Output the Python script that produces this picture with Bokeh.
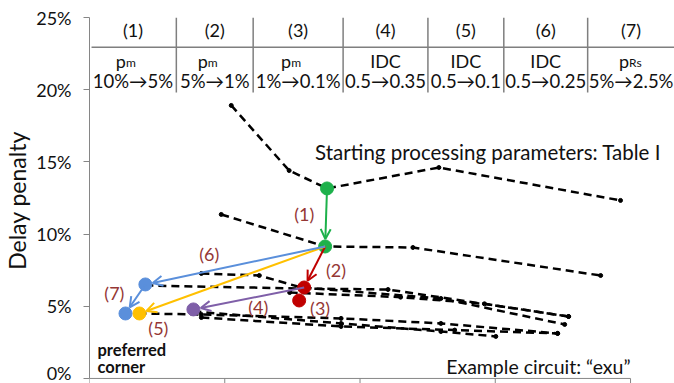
import numpy as np
from bokeh.plotting import figure
from bokeh.models import ColumnDataSource, Arrow, OpenHead, Range1d, PrintfTickFormatter
from bokeh.embed import file_html
from bokeh.resources import INLINE
from bokeh.core.properties import value

FONT = "Lato"

# ---------------- data ----------------
# dashed black trade-off curves (x in axis units 0..4, y in %)
curve_a_x = [1.048, 1.476, 1.756, 2.583, 3.926]
curve_a_y = [18.91, 14.40, 13.16, 14.61, 12.33]
curve_b_x = [0.974, 1.742, 2.391, 3.779]
curve_b_y = [11.36, 9.14, 9.07, 7.13]
curve_c_x = [0.413, 1.565, 2.207, 3.542]
curve_c_y = [6.44, 6.23, 6.16, 4.29]
curve_d_x = [0.827, 1.255, 1.565, 2.598, 3.513]
curve_d_y = [7.27, 7.13, 6.30, 5.54, 3.74]
curve_e_x = [1.48, 2.30, 2.92, 3.542]
curve_e_y = [5.95, 5.63, 5.17, 4.29]
curve_f_x = [0.362, 0.827, 1.860, 2.598, 3.461]
curve_f_y = [4.50, 4.43, 4.16, 3.81, 3.12]
curve_g_x = [0.768, 1.860, 2.598, 3.004]
curve_g_y = [4.64, 3.81, 3.25, 2.91]
curve_h_x = [0.827, 1.860, 2.70, 3.461]
curve_h_y = [4.22, 3.60, 3.35, 3.12]

# coloured steps
pt_names = ["start", "s1", "s2", "s3", "s4", "s5", "s6", "s7"]
pt_x = [1.756, 1.742, 1.587, 1.550, 0.768, 0.369, 0.413, 0.266]
pt_y = [13.16, 9.14, 6.30, 5.40, 4.78, 4.50, 6.51, 4.50]
pt_colors = ["#1DB14B", "#1DB14B", "#C00000", "#C00000", "#7F5FA8", "#FFC000", "#5A8FDB", "#5A8FDB"]

# arrows: (from point index, to point index, colour)
arrow_from = [0, 1, 2, 1, 1, 6]
arrow_to = [1, 2, 4, 5, 6, 7]
arrow_colors = ["#1DB14B", "#C00000", "#7F5FA8", "#FFC000", "#5A8FDB", "#5A8FDB"]

step_labels = ["(1)", "(2)", "(3)", "(4)", "(5)", "(6)", "(7)"]
step_lab_x = [1.587, 1.823, 1.705, 1.247, 0.509, 0.886, 0.184]
step_lab_y = [11.40, 7.50, 4.85, 4.92, 3.50, 8.60, 5.90]

# parameter table
col_ids = ["(1)", "(2)", "(3)", "(4)", "(5)", "(6)", "(7)"]
col_param = ["p", "p", "p", "IDC", "IDC", "IDC", "p"]
col_sub = ["m", "m", "m", "", "", "", "Rs"]
col_change = ["10%\u21925%", "5%\u21921%", "1%\u21920.1%", "0.5\u21920.35",
              "0.5\u21920.1", "0.5\u21920.25", "5%\u21922.5%"]

y_ticks = [0, 5, 10, 15, 20, 25]
x_ticks = [0, 1, 2, 3, 4]

# ---------------- layout constants ----------------
X_MAX = 4.325
Y_MIN = -0.35
FRAME_W = 586
FRAME_H = 366
SX = FRAME_W / X_MAX
SY = FRAME_H / (25.0 - Y_MIN)
table_edges = [0.0, 0.642, 1.210, 1.875, 2.502, 3.063, 3.683, X_MAX]
table_top, table_mid, table_bot = 25.0, 22.94, 19.80
row1_y, row2_y, row3_y = 24.15, 22.02, 20.57
GREY = "#868686"
INK = "#111111"

p = figure(width=674, height=383, x_range=Range1d(0, X_MAX), y_range=Range1d(Y_MIN, 25),
           output_backend="svg", toolbar_location=None, x_axis_location=None,
           min_border_left=88, min_border_right=0, min_border_top=17, min_border_bottom=0)
p.outline_line_color = None
p.grid.grid_line_color = None
p.background_fill_color = "white"

# y axis
p.yaxis.ticker = y_ticks
p.yaxis.bounds = (0, 25)
p.yaxis.formatter = PrintfTickFormatter(format="%d%%")
p.yaxis.axis_line_color = GREY
p.yaxis.major_tick_line_color = GREY
p.yaxis.major_tick_out = 6
p.yaxis.major_tick_in = 0
p.yaxis.minor_tick_line_color = None
p.yaxis.major_label_text_font = FONT
p.yaxis.major_label_text_font_size = "18px"
p.yaxis.major_label_text_color = INK
p.yaxis.major_label_standoff = 12
p.yaxis.axis_label = "Delay penalty"
p.yaxis.axis_label_text_font = FONT
p.yaxis.axis_label_text_font_size = "23px"
p.yaxis.axis_label_text_font_style = "normal"
p.yaxis.axis_label_text_color = INK
p.yaxis.axis_label_standoff = 2

# x axis line + downward ticks (labels are cut off in the picture)
p.segment(x0=[x_ticks[0]], y0=[0], x1=[x_ticks[-1]], y1=[0], line_color=GREY, line_width=1)
p.segment(x0=x_ticks, y0=[0] * len(x_ticks), x1=x_ticks, y1=[Y_MIN] * len(x_ticks),
          line_color=GREY, line_width=1)

# table
vx = table_edges[1:-1]
p.segment(x0=vx, y0=[table_top] * len(vx), x1=vx, y1=[table_bot] * len(vx),
          line_color="#7F7F7F", line_width=1.5)
p.segment(x0=[0.015], y0=[table_mid], x1=[X_MAX], y1=[table_mid], line_color="#7F7F7F", line_width=1.5)
centers = [(table_edges[i] + table_edges[i + 1]) / 2 for i in range(7)]
tsrc = ColumnDataSource(dict(x=centers, ids=col_ids, par=col_param, sub=col_sub, chg=col_change))
p.text(x="x", y=row1_y, text="ids", source=tsrc, text_align="center", text_baseline="alphabetic",
       text_font=value(FONT), text_font_size="18px", text_color=INK)
p.text(x="x", y=row3_y, text="chg", source=tsrc, text_align="center", text_baseline="alphabetic",
       text_font=value(FONT), text_font_size="18.5px", text_color=INK)
plain = [i for i in range(7) if col_sub[i] == ""]
subd = [i for i in range(7) if col_sub[i] != ""]
p.text(x=[centers[i] for i in plain], y=row2_y, text=[col_param[i] for i in plain],
       text_align="center", text_baseline="alphabetic",
       text_font=value(FONT), text_font_size="18px", text_color=INK)
shift = [-7 if col_sub[i] == "m" else -2 for i in subd]
p.text(x=[centers[i] for i in subd], y=row2_y, text=[col_param[i] for i in subd],
       x_offset=shift, text_align="right", text_baseline="alphabetic",
       text_font=value(FONT), text_font_size="18px", text_color=INK)
p.text(x=[centers[i] for i in subd], y=row2_y, text=[col_sub[i] for i in subd],
       x_offset=shift, y_offset=2, text_align="left", text_baseline="alphabetic",
       text_font=value(FONT), text_font_size="12px", text_color=INK)

# dashed curves
cx = [curve_a_x, curve_b_x, curve_c_x, curve_d_x, curve_e_x, curve_f_x, curve_g_x, curve_h_x]
cy = [curve_a_y, curve_b_y, curve_c_y, curve_d_y, curve_e_y, curve_f_y, curve_g_y, curve_h_y]
p.multi_line(xs=cx, ys=cy, line_color="black", line_width=2.5, line_dash="8 5")
p.scatter(x=sum(cx, []), y=sum(cy, []), size=4, color="black")

# arrows (shortened in screen space so the head stops at the marker edge)
R = 7.5
for i, (a, b) in enumerate(zip(arrow_from, arrow_to)):
    dx = (pt_x[b] - pt_x[a]) * SX
    dy = (pt_y[b] - pt_y[a]) * SY
    L = np.hypot(dx, dy)
    f = (L - R) / L
    p.add_layout(Arrow(end=OpenHead(size=10, line_color=arrow_colors[i], line_width=2),
                       x_start=pt_x[a], y_start=pt_y[a],
                       x_end=pt_x[a] + (pt_x[b] - pt_x[a]) * f,
                       y_end=pt_y[a] + (pt_y[b] - pt_y[a]) * f,
                       line_color=arrow_colors[i], line_width=2))

p.scatter(x=pt_x, y=pt_y, size=13, color=pt_colors)

p.text(x=step_lab_x, y=step_lab_y, text=step_labels, text_align="center", text_baseline="middle",
       text_font=value(FONT), text_font_size="18px", text_color="#953735")

p.text(x=[1.668], y=[15.65], text=["Starting processing parameters: Table I"],
       text_align="left", text_baseline="middle",
       text_font=value(FONT), text_font_size="20.5px", text_color=INK)
p.text(x=[4.0], y=[0.83], text=["Example circuit: \u201cexu\u201d"],
       text_align="right", text_baseline="middle",
       text_font=value(FONT), text_font_size="19.5px", text_color=INK)
p.text(x=[0.059, 0.059], y=[2.0, 0.80], text=["preferred", "corner"],
       text_align="left", text_baseline="middle",
       text_font=value(FONT), text_font_size="16.5px", text_font_style="bold", text_color=INK)

open("out.html", "w").write(file_html(p, INLINE))
